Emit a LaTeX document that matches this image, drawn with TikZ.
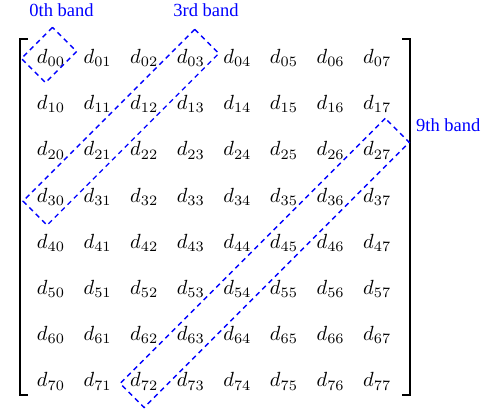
\documentclass[tikz,border=0pt]{standalone}
\usepackage{fontspec}
\newfontfamily\labelfont{Liberation Serif}
\usetikzlibrary{calc}
\begin{document}
\begin{tikzpicture}[x=1pt,y=-1pt,
  cell/.style={inner sep=0pt, scale=2.05},
  bracket/.style={draw=black, line width=1.6pt},
  band/.style={draw=blue, line width=1.4pt, dash pattern=on 5pt off 4pt, rotate=45,
    minimum height=34pt, inner sep=0pt},
  lbl/.style={text=blue, inner sep=0pt, font=\labelfont\fontsize{18.5}{20}\selectfont}]
\useasboundingbox (0,0) rectangle (491,412);
\foreach \i in {0,...,7}{
  \foreach \j in {0,...,7}{
    \node[cell] (d\i\j) at (51+46.6*\j, 58+46.2*\i) {$d_{\i\j}$};
  }
}
\draw[bracket] (28,39) -- (20,39) -- (20,395) -- (28,395);
\draw[bracket] (402,39) -- (410,39) -- (410,395) -- (402,395);
\node[band, minimum width=44pt] (b0) at ($(d00)+(-2,-3)$) {};
\node[band, minimum width=243pt] (b3) at ($(d03)!0.5!(d30)$) {};
\node[band, minimum width=375pt] (b9) at ($(d27)!0.5!(d72)+(4,-3)$) {};
\node[lbl, anchor=base] (l0) at (61.5,17) {0th band};
\node[lbl, anchor=base] (l3) at (206,17) {3rd band};
\node[lbl, anchor=base west] (l9) at (416,132) {9th band};
\end{tikzpicture}
\end{document}
